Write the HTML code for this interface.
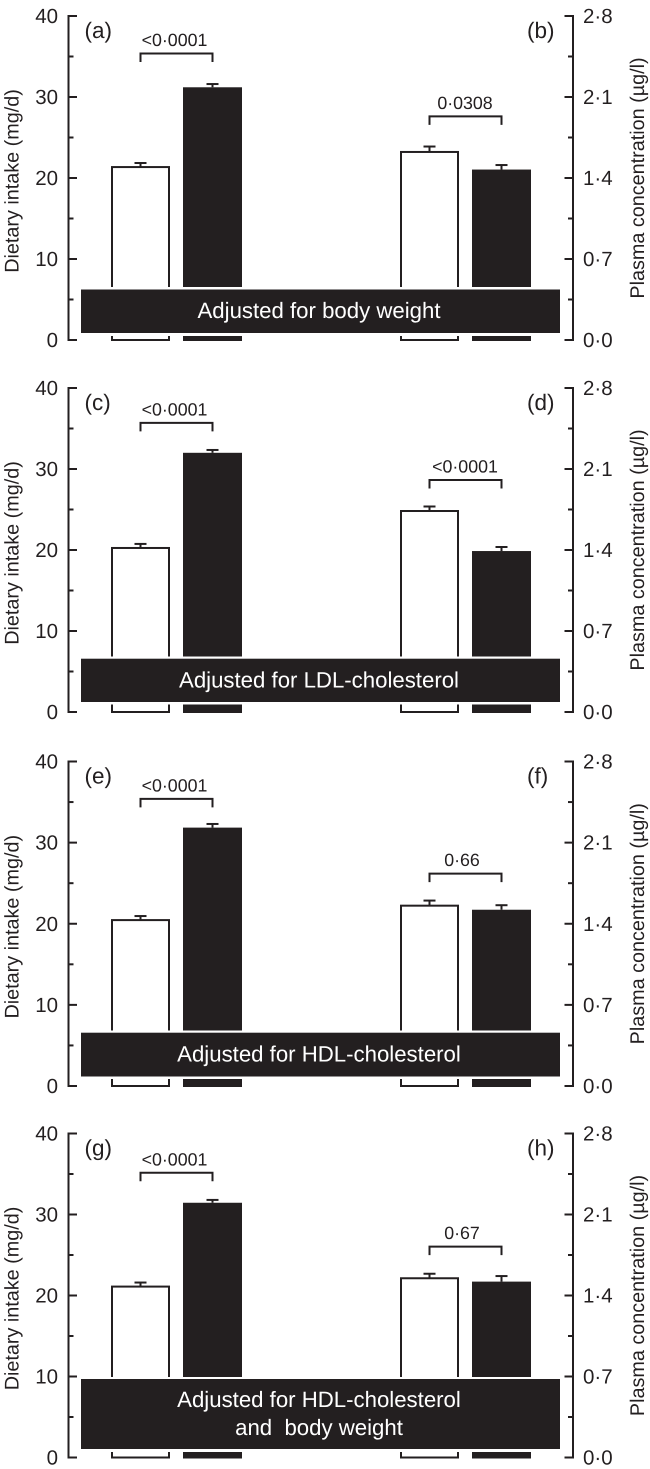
<!DOCTYPE html>
<html lang="en">
<head>
<meta charset="utf-8">
<title>Dietary intake and plasma concentration</title>
<style>
html,body{margin:0;padding:0;background:#fff;width:650px;height:1469px;overflow:hidden}
svg{display:block}
text{font-family:"Liberation Sans",sans-serif;fill:#231f20;text-rendering:geometricPrecision}
</style>
</head>
<body>
<svg id="chart" xmlns="http://www.w3.org/2000/svg" width="650" height="1469" viewBox="0 0 650 1469"></svg>
<script>
// Data: one entry per row of panels
const leftPanelLabels = ["(a)", "(c)", "(e)", "(g)"];
const rightPanelLabels = ["(b)", "(d)", "(f)", "(h)"];
const adjustmentLabels = [
  ["Adjusted for body weight"],
  ["Adjusted for LDL-cholesterol"],
  ["Adjusted for HDL-cholesterol"],
  ["Adjusted for HDL-cholesterol", "and  body weight"]
];
const intakeOpen = [21.35, 20.25, 20.45, 21.1];
const intakeOpenUpper = [21.85, 20.75, 20.95, 21.6];
const intakeFilled = [31.2, 32.0, 31.85, 31.45];
const intakeFilledUpper = [31.6, 32.35, 32.3, 31.8];
const plasmaOpen = [1.625, 1.737, 1.556, 1.549];
const plasmaOpenUpper = [1.672, 1.776, 1.6, 1.588];
const plasmaFilled = [1.473, 1.391, 1.521, 1.52];
const plasmaFilledUpper = [1.512, 1.426, 1.56, 1.568];
const intakePValues = ["<0·0001", "<0·0001", "<0·0001", "<0·0001"];
const plasmaPValues = ["0·0308", "<0·0001", "0·66", "0·67"];
const intakeBracketLevels = [35.37, 35.7, 35.4, 35.15];
const plasmaBracketLevels = [1.933, 2.005, 1.832, 1.822];
const leftMajorTicks = [0, 10, 20, 30, 40];
const leftTickLabels = ["0", "10", "20", "30", "40"];
const leftMinorTicks = [5, 15, 25, 35];
const rightMajorTicks = [0, 0.7, 1.4, 2.1, 2.8];
const rightTickLabels = ["0·0", "0·7", "1·4", "2·1", "2·8"];
const rightMinorTicks = [0.35, 1.05, 1.75, 2.45];
const leftTitle = "Dietary intake (mg/d)";
const rightTitle = "Plasma concentration (µg/l)";

// Layout
const INK = "#231f20";
const rows = [
  {top: 16, base: 340, halo: [287, 336], band: [289.5, 333], text: [318]},
  {top: 388, base: 712, halo: [656.5, 704.5], band: [658.7, 702], text: [687.5]},
  {top: 761.5, base: 1086, halo: [1030.5, 1079], band: [1032.7, 1076.5], text: [1061.5]},
  {top: 1133.5, base: 1457.5, halo: [1377, 1452], band: [1379, 1449], text: [1407, 1435]}
];
const LEFT_AXIS_X = 68.5, RIGHT_AXIS_X = 573;
const LEFT_MAX = 40, RIGHT_MAX = 2.8;
const svg = document.getElementById("chart");
const NS = "http://www.w3.org/2000/svg";

function mk(tag, attrs, parent) {
  const n = document.createElementNS(NS, tag);
  for (const k in attrs) n.setAttribute(k, attrs[k]);
  (parent || svg).appendChild(n);
  return n;
}
function line(x1, y1, x2, y2, w, parent) {
  return mk("line", {x1: x1, y1: y1, x2: x2, y2: y2, stroke: INK, "stroke-width": w}, parent);
}
function yScale(row, max) {
  return function (v) { return row.base - (v / max) * (row.base - row.top); };
}

function drawBar(g, x0, x1, y, errY, base, filled) {
  const cx = (x0 + x1) / 2;
  const err = mk("g", {}, g);
  
  
  line(cx, y, cx, errY, 2, err);
  line(cx - 6, errY, cx + 6, errY, 2, err);
  const bar = filled
    ? mk("rect", {x: x0, y: y, width: x1 - x0, height: base + 1 - y, fill: INK}, g)
    : mk("rect", {x: x0 + 1, y: y, width: x1 - x0 - 2, height: base - y, fill: "#fff", stroke: INK, "stroke-width": 2}, g);
  
  
}

function drawBracket(g, x0, x1, y, label, labelX, labelGap) {
  const b = mk("path", {d: "M" + x0 + " " + (y + 8.5) + "V" + y + "H" + x1 + "V" + (y + 8.5), fill: "none", stroke: INK, "stroke-width": 2}, g);
  
  
  const t = mk("text", {x: labelX, y: y - labelGap, "text-anchor": "middle", "font-size": 17.8}, g);
  t.textContent = label;
  
  
}

function drawAxis(row, axisX, dir, majors, labels, minors, max, name) {
  const y = yScale(row, max);
  const g = mk("g", {});
  
  
  line(axisX, row.top - 1, axisX, row.base + 1, 2, g);
  majors.forEach(function (v, i) {
    line(axisX, y(v), axisX + dir * 8.5, y(v), 2, g);
    const t = mk("text", {
      x: dir > 0 ? 58 : 583,
      y: y(v) + 7,
      "text-anchor": dir > 0 ? "end" : "start",
      "font-size": 20.5
    }, g);
    t.textContent = labels[i];
    
    
  });
  minors.forEach(function (v) {
    line(axisX, y(v), axisX + dir * 5, y(v), 2, g);
  });
}

rows.forEach(function (row, i) {
  const yL = yScale(row, LEFT_MAX);
  const yR = yScale(row, RIGHT_MAX);

  const marks = mk("g", {});
  
  
  drawBar(marks, 111, 170, yL(intakeOpen[i]), yL(intakeOpenUpper[i]), row.base, false);
  drawBar(marks, 183, 242, yL(intakeFilled[i]), yL(intakeFilledUpper[i]), row.base, true);
  drawBar(marks, 400, 459, yR(plasmaOpen[i]), yR(plasmaOpenUpper[i]), row.base, false);
  drawBar(marks, 472, 531, yR(plasmaFilled[i]), yR(plasmaFilledUpper[i]), row.base, true);

  const halo = mk("rect", {x: 78, y: row.halo[0], width: 485, height: row.halo[1] - row.halo[0], fill: "#fff"});
  
  

  const band = mk("rect", {x: 81, y: row.band[0], width: 479, height: row.band[1] - row.band[0], fill: INK});
  
  

  adjustmentLabels[i].forEach(function (s, j) {
    const t = mk("text", {x: 319, y: row.text[j], "text-anchor": "middle", "font-size": 22.2});
    t.style.fill = "#fff";
    t.style.whiteSpace = "pre";
    t.textContent = s;
    
    
  });

  const ann = mk("g", {});
  
  
  drawBracket(ann, 140.5, 212.5, yL(intakeBracketLevels[i]), intakePValues[i], 174.5, 7.5);
  drawBracket(ann, 429.5, 501.5, yR(plasmaBracketLevels[i]), plasmaPValues[i], plasmaPValues[i].length > 4 ? 465 : 462, 7.5);

  drawAxis(row, LEFT_AXIS_X, 1, leftMajorTicks, leftTickLabels, leftMinorTicks, LEFT_MAX, "left-y-axis");
  drawAxis(row, RIGHT_AXIS_X, -1, rightMajorTicks, rightTickLabels, rightMinorTicks, RIGHT_MAX, "right-y-axis");

  const pl = mk("text", {x: 84.5, y: row.top + 22, "font-size": 22.5});
  pl.textContent = leftPanelLabels[i];
  
  

  const pr = mk("text", {x: 527, y: row.top + 22, "font-size": 22.5});
  pr.textContent = rightPanelLabels[i];
  
  

  const mid = (row.top + row.base) / 2;
  const lt = mk("text", {transform: "translate(18.5 " + (mid + 3) + ") rotate(-90)", "text-anchor": "middle", "font-size": 19.8});
  lt.textContent = leftTitle;
  
  

  const rt = mk("text", {transform: "translate(644 " + mid + ") rotate(-90)", "text-anchor": "middle", "font-size": 19.8});
  rt.textContent = rightTitle;
  
  
});
</script>
</body>
</html>
